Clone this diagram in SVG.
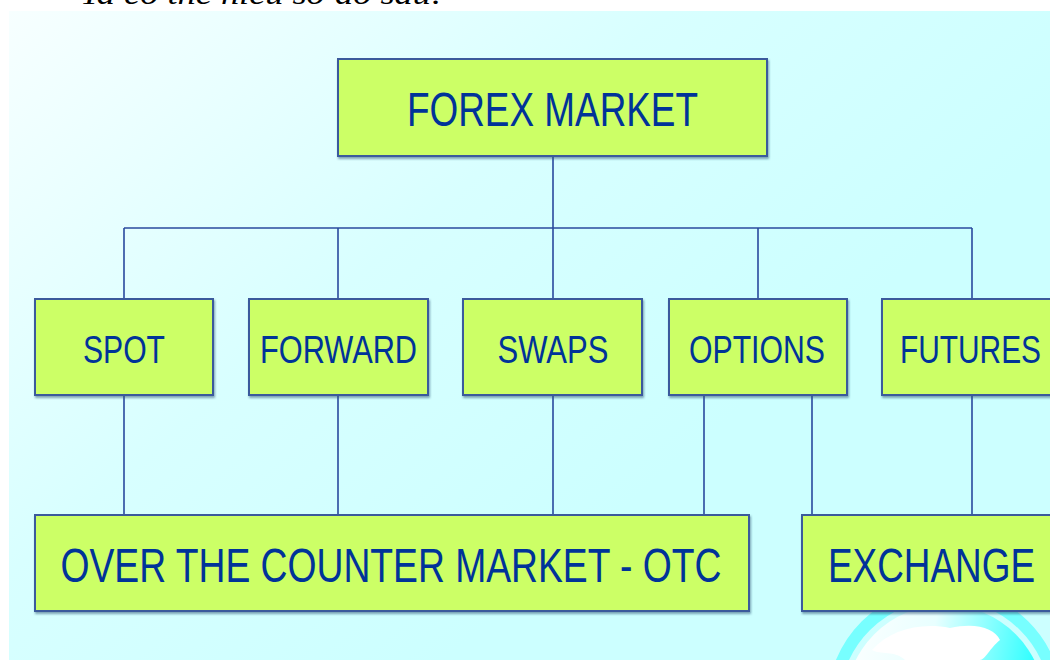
<svg xmlns="http://www.w3.org/2000/svg" width="1050" height="660" viewBox="0 0 1050 660">
  <defs>
    <linearGradient id="bg" x1="0" y1="0" x2="0.75" y2="0.55">
      <stop offset="0" stop-color="#f7ffff"/>
      <stop offset="0.55" stop-color="#d8ffff"/>
      <stop offset="1" stop-color="#ccffff"/>
    </linearGradient>
    <linearGradient id="globe" x1="0" y1="0" x2="1" y2="0.2">
      <stop offset="0" stop-color="#ffffff"/>
      <stop offset="0.45" stop-color="#e8ffff"/>
      <stop offset="1" stop-color="#22ffff"/>
    </linearGradient>
    <filter id="shadow" x="-5%" y="-5%" width="110%" height="120%">
      <feDropShadow dx="1" dy="2" stdDeviation="0.8" flood-color="#335577" flood-opacity="0.55"/>
    </filter>
  </defs>
  <style>
    .box { fill: #ccff66; stroke: #3a5a9c; stroke-width: 2; filter: url(#shadow); }
    .lbl { font-family: "Liberation Sans", Arial, sans-serif; fill: #003399; text-anchor: middle; }
    .big { font-size: 48px; }
    .mid { font-size: 39px; }
    .wire { fill: none; stroke: #2a4a9e; stroke-width: 1.6; }
    .caption { font-family: "Liberation Serif", "Times New Roman", serif; font-style: italic; font-size: 29px; fill: #000; }
  </style>

  <!-- page and slide background -->
  <rect x="0" y="0" width="1050" height="660" fill="#ffffff"/>
  <text class="caption" x="80" y="4" textLength="363" lengthAdjust="spacingAndGlyphs">Ta có thể hiểu sơ đồ sau:</text>
  <rect x="9" y="11" width="1041" height="649" fill="url(#bg)"/>

  <!-- globe ornament, bottom right -->
  <g id="globe-ornament">
    <circle cx="945" cy="705" r="112" fill="none" stroke="#77ffff" stroke-width="12"/>
    <circle cx="945" cy="705" r="100" fill="url(#globe)"/>
    <path d="M872,650 C890,630 920,622 950,628 C975,622 995,628 1000,640 C990,648 985,660 980,660 L905,660 C895,650 880,655 872,650 Z" fill="#ffffff"/>
    <path d="M968,640 L975,650 L972,660 L966,660 Z" fill="#ffffff"/>
  </g>

  <!-- connectors -->
  <g id="connectors" class="wire">
    <path d="M553,157 V228"/>
    <path d="M124,228 H972"/>
    <path d="M124,228 V299 M338,228 V299 M553,228 V299 M758,228 V299 M972,228 V299"/>
    <path d="M124,396 V515 M338,396 V515 M553,396 V515 M704,396 V515"/>
    <path d="M812,396 V515 M972,396 V515"/>
  </g>

  <!-- top node -->
  <g id="forex-market">
    <rect class="box" x="338" y="59" width="429" height="97"/>
    <text class="lbl big" x="552.5" y="126" textLength="291" lengthAdjust="spacingAndGlyphs">FOREX MARKET</text>
  </g>

  <!-- instrument nodes -->
  <g id="spot">
    <rect class="box" x="35" y="299" width="178" height="96"/>
    <text class="lbl mid" x="124" y="363" textLength="82" lengthAdjust="spacingAndGlyphs">SPOT</text>
  </g>
  <g id="forward">
    <rect class="box" x="249" y="299" width="179" height="96"/>
    <text class="lbl mid" x="338.5" y="363" textLength="157" lengthAdjust="spacingAndGlyphs">FORWARD</text>
  </g>
  <g id="swaps">
    <rect class="box" x="463" y="299" width="179" height="96"/>
    <text class="lbl mid" x="553" y="363" textLength="111" lengthAdjust="spacingAndGlyphs">SWAPS</text>
  </g>
  <g id="options">
    <rect class="box" x="669" y="299" width="178" height="96"/>
    <text class="lbl mid" x="757" y="363" textLength="136" lengthAdjust="spacingAndGlyphs">OPTIONS</text>
  </g>
  <g id="futures">
    <rect class="box" x="882" y="299" width="180" height="96"/>
    <text class="lbl mid" x="970.5" y="363" textLength="141" lengthAdjust="spacingAndGlyphs">FUTURES</text>
  </g>

  <!-- market venue nodes -->
  <g id="otc">
    <rect class="box" x="35" y="515" width="714" height="96"/>
    <text class="lbl big" x="391" y="582" textLength="661" lengthAdjust="spacingAndGlyphs">OVER THE COUNTER MARKET - OTC</text>
  </g>
  <g id="exchange">
    <rect class="box" x="802" y="515" width="260" height="96"/>
    <text class="lbl big" x="931.5" y="582" textLength="207" lengthAdjust="spacingAndGlyphs">EXCHANGE</text>
  </g>
</svg>
